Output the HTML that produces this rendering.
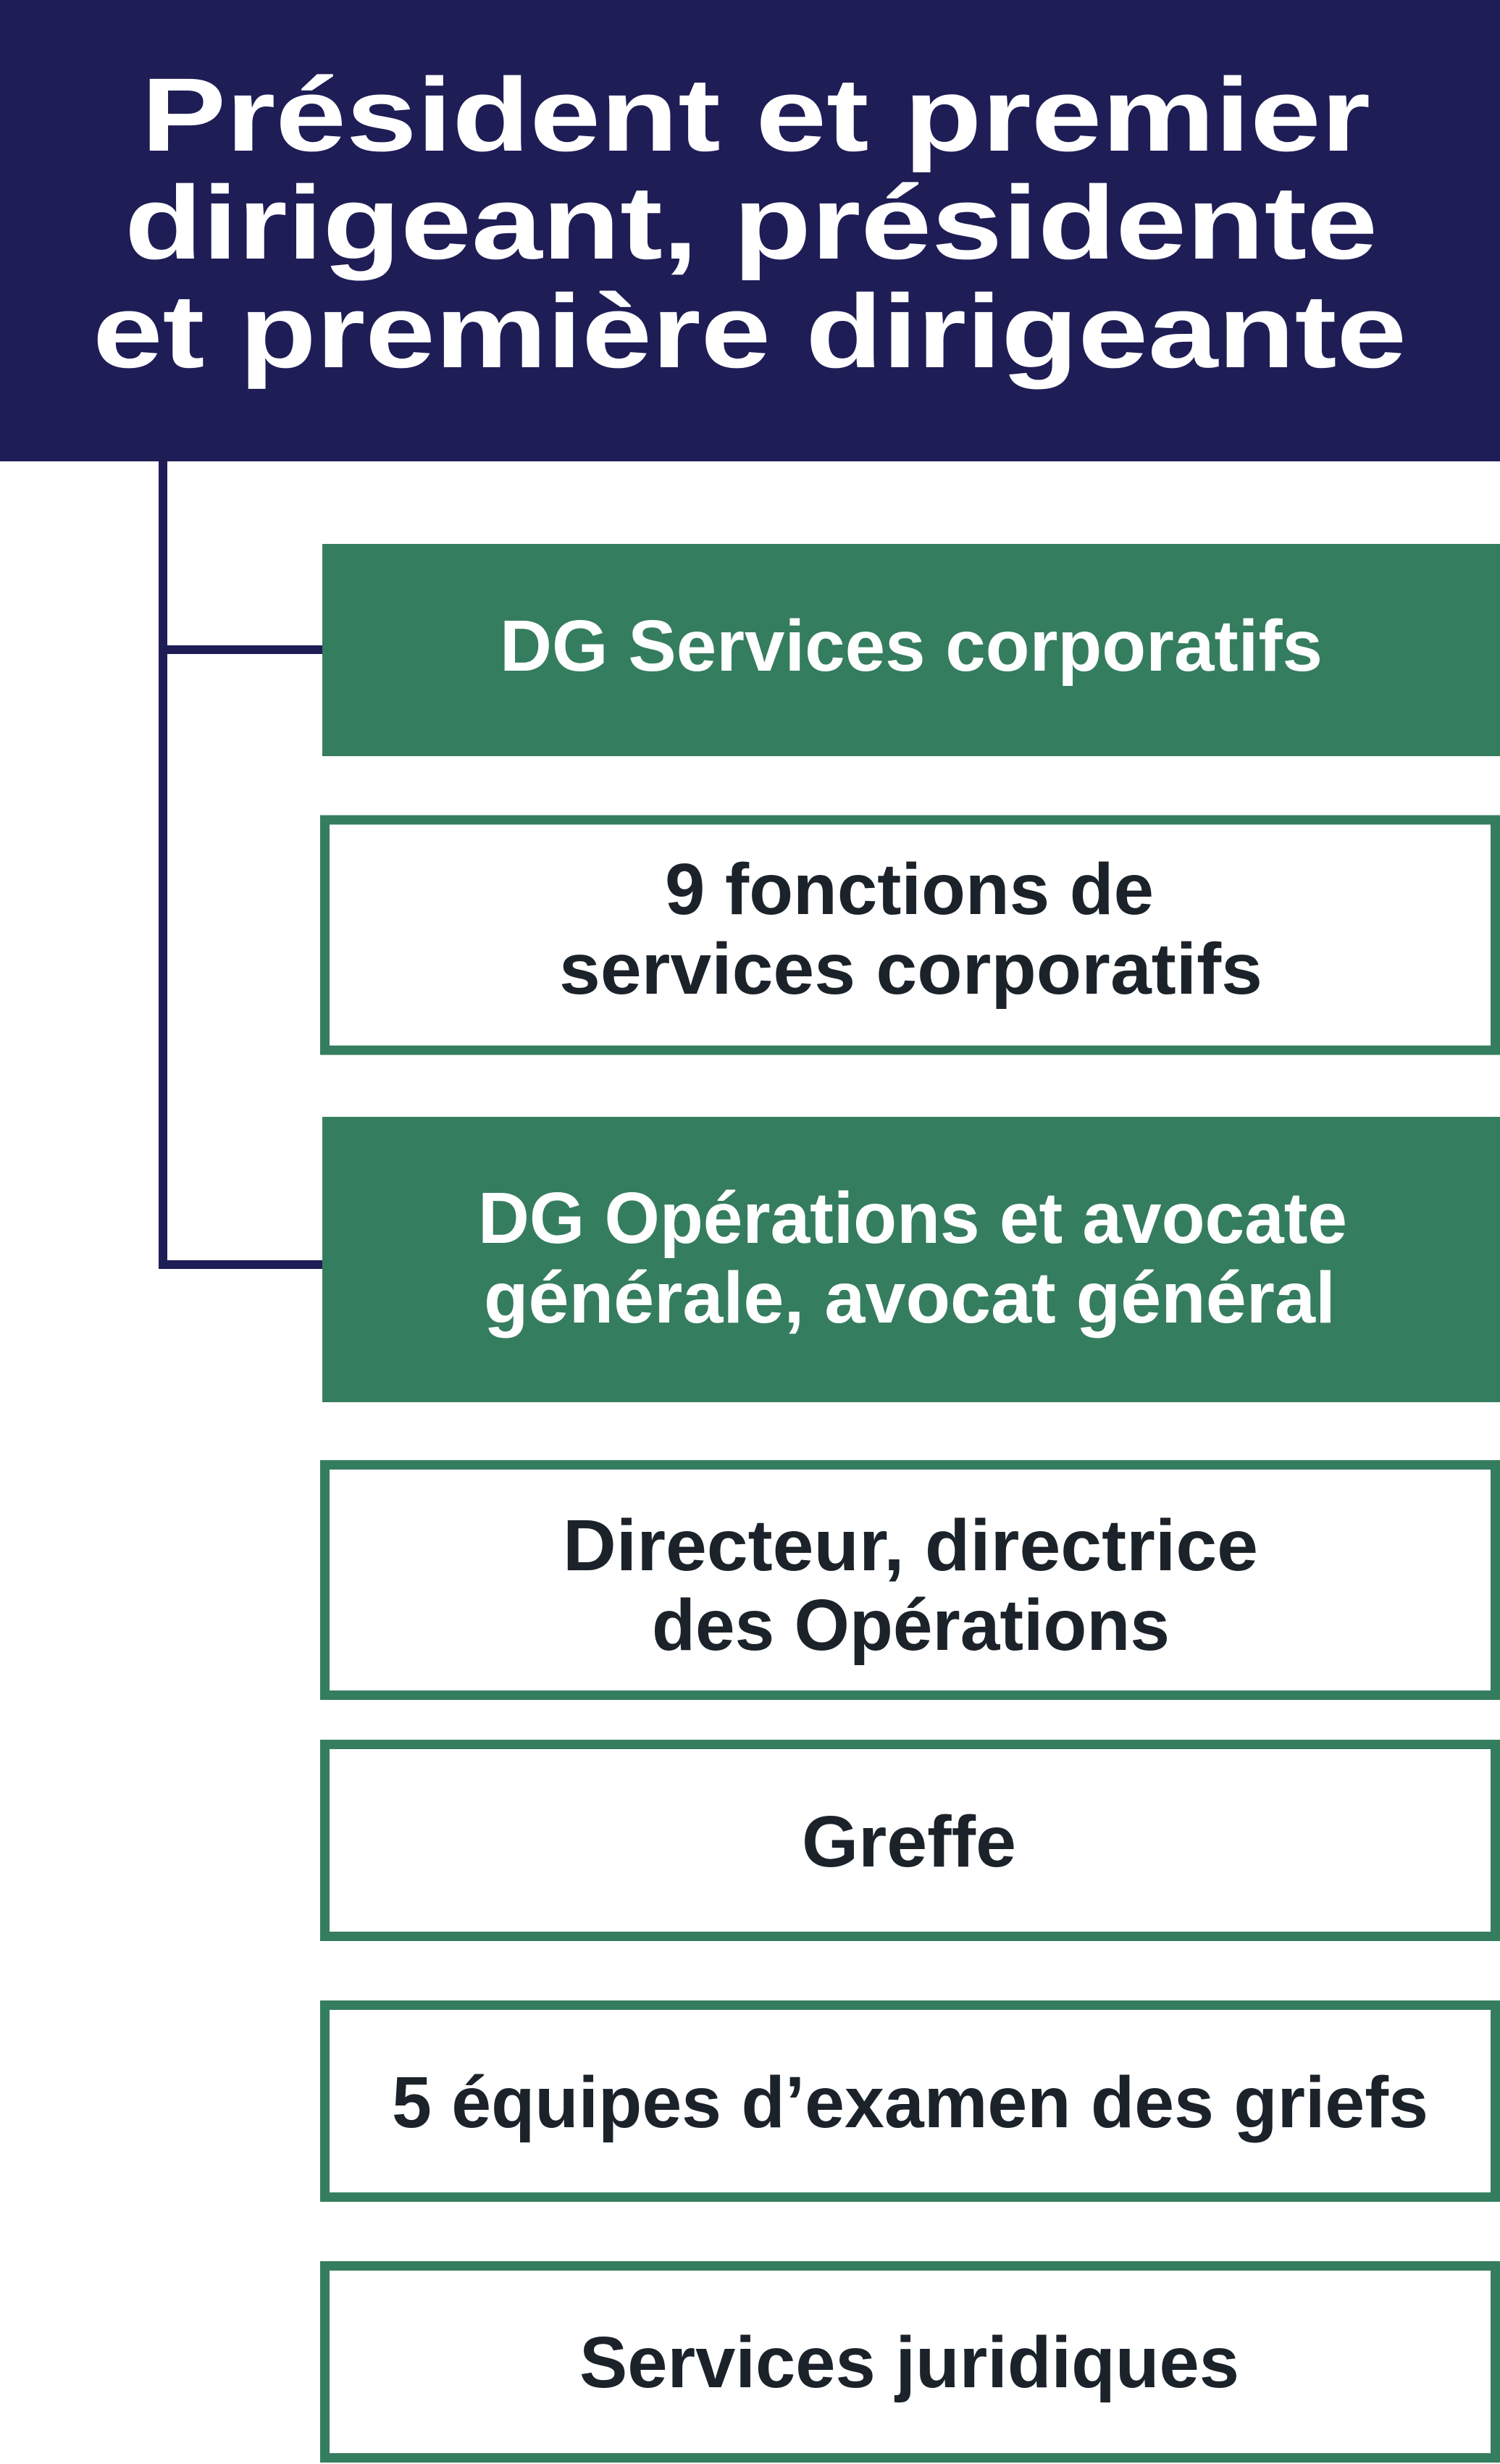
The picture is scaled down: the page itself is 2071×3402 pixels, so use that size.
<!DOCTYPE html>
<html><head><meta charset="utf-8">
<style>
html,body{margin:0;padding:0;background:#fff;}
svg{display:block;}
.h{font-family:"Liberation Sans",sans-serif;font-weight:bold;font-size:144px;fill:#fff;}
.w{font-family:"Liberation Sans",sans-serif;font-weight:bold;font-size:100px;fill:#fff;}
.d{font-family:"Liberation Sans",sans-serif;font-weight:bold;font-size:100px;fill:#1b222a;}
</style></head>
<body>
<svg width="2071" height="3402" viewBox="0 0 2071 3402" xmlns="http://www.w3.org/2000/svg">
<rect x="0" y="0" width="2071" height="637" fill="#1f1d56"/>
<text class="h" x="195" y="208" textLength="1697" lengthAdjust="spacingAndGlyphs">Président et premier</text>
<text class="h" x="172" y="357" textLength="1730" lengthAdjust="spacingAndGlyphs">dirigeant, présidente</text>
<text class="h" x="128" y="507" textLength="1814" lengthAdjust="spacingAndGlyphs">et première dirigeante</text>

<rect x="219" y="637" width="12" height="1115" fill="#1f1d56"/>
<rect x="219" y="891" width="226" height="12" fill="#1f1d56"/>
<rect x="219" y="1740" width="226" height="12" fill="#1f1d56"/>

<rect x="445" y="751" width="1626" height="293" fill="#357d5f"/>
<text class="w" x="690" y="926" textLength="1136" lengthAdjust="spacingAndGlyphs">DG Services corporatifs</text>

<rect x="448.5" y="1132" width="1616" height="318" fill="none" stroke="#357d5f" stroke-width="13"/>
<text class="d" x="918" y="1262" textLength="675" lengthAdjust="spacingAndGlyphs">9 fonctions de</text>
<text class="d" x="772" y="1372" textLength="971" lengthAdjust="spacingAndGlyphs">services corporatifs</text>

<rect x="445" y="1542" width="1626" height="394" fill="#357d5f"/>
<text class="w" x="660" y="1716" textLength="1200" lengthAdjust="spacingAndGlyphs">DG Opérations et avocate</text>
<text class="w" x="668" y="1826" textLength="1176" lengthAdjust="spacingAndGlyphs">générale, avocat général</text>

<rect x="448.5" y="2022.5" width="1616" height="318" fill="none" stroke="#357d5f" stroke-width="13"/>
<text class="d" x="777" y="2168" textLength="960" lengthAdjust="spacingAndGlyphs">Directeur, directrice</text>
<text class="d" x="900" y="2278" textLength="715" lengthAdjust="spacingAndGlyphs">des Opérations</text>

<rect x="448.5" y="2408.5" width="1616" height="265" fill="none" stroke="#357d5f" stroke-width="13"/>
<text class="d" x="1107" y="2577" textLength="296" lengthAdjust="spacingAndGlyphs">Greffe</text>

<rect x="448.5" y="2768.5" width="1616" height="265" fill="none" stroke="#357d5f" stroke-width="13"/>
<text class="d" x="541" y="2937" textLength="1431" lengthAdjust="spacingAndGlyphs">5 équipes d’examen des griefs</text>

<rect x="448.5" y="3128.5" width="1616" height="265" fill="none" stroke="#357d5f" stroke-width="13"/>
<text class="d" x="800" y="3296" textLength="911" lengthAdjust="spacingAndGlyphs">Services juridiques</text>
</svg>
</body></html>
